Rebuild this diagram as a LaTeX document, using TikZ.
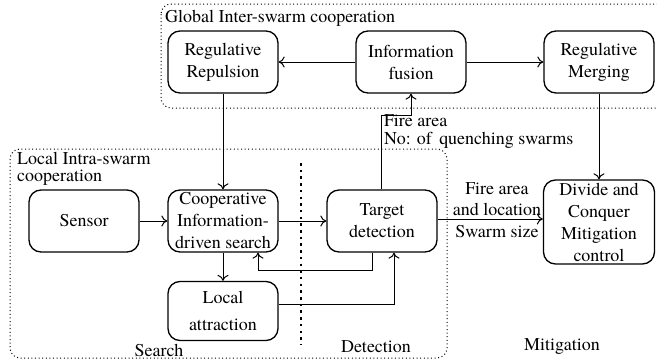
\documentclass[tikz,border=0pt]{standalone}
\usepackage{fontspec}
\setmainfont{texgyretermes}[Extension=.otf,UprightFont=*-regular,BoldFont=*-bold]
\usetikzlibrary{arrows,arrows.meta,positioning,calc}
\tikzset{>={To[length=6pt,width=11pt]}}
\tikzset{
  block/.style={draw,line width=1.3pt,rounded corners=12pt,align=center,minimum width=110pt,minimum height=62pt,inner sep=1pt,font=\rmfamily\fontsize{18}{22}\selectfont},
  lbl/.style={inner sep=0pt,font=\rmfamily\fontsize{18}{18}\selectfont},
  region/.style={line width=1pt,dash pattern=on 1pt off 2.6pt,rounded corners=10pt},
  flow/.style={->,line width=1pt}
}

\begin{document}
\begin{tikzpicture}[x=1pt,y=-1pt]
        \useasboundingbox (0,0) rectangle (657,364);

        % regions
        \draw [region] (161,4) rectangle (668,108);
        \draw [region] (10,149) rectangle (447,358);
        \draw [line width=2.5pt,dash pattern=on 2.5pt off 4.2pt] (301,163) -- (301,345);

        % nodes
        \node [block] (repulsion) at (223,62) {Regulative\\Repulsion};
        \node [block] (fusion) at (411,62) {Information\\fusion};
        \node [block] (merging) at (599,62) {Regulative\\Merging};
        \node [block] (sensor) at (84,221) {Sensor};
        \node [block] (search) at (223,221) {Cooperative\\Information-\\driven search};
        \node [block] (target) at (382,221) {Target\\detection};
        \node [block,minimum height=59pt] (attract) at (223,311) {Local\\[5pt]attraction};
        \node [block,minimum width=111pt,minimum height=84pt] (divide) at (599,222) {Divide and\\Conquer\\Mitigation\\control};

        % labels
        \node [lbl,anchor=west] (global) at (165,18) {Global Inter-swarm cooperation};
        \node [lbl,anchor=west,align=left,font=\rmfamily\fontsize{18}{17}\selectfont] (local) at (17,169) {Local Intra-swarm\\cooperation};
        \node [lbl,anchor=west,align=left] (firetop) at (384,132) {Fire area\\No: of\, quenching swarms};
        \node [lbl,align=center,font=\rmfamily\fontsize{18}{21}\selectfont] (fireloc) at (497,199) {Fire area\\and location};
        \node [lbl] (swarm) at (497,232) {Swarm size};
        \node [lbl] (searchlbl) at (159,350) {Search};
        \node [lbl] (detectlbl) at (376,347) {Detection};
        \node [lbl] (mitiglbl) at (562,347) {Mitigation};

        % arrows
        \draw [flow] (fusion) -- (repulsion);
        \draw [flow] (fusion) -- (merging);
        \draw [flow] (repulsion) -- (search);
        \draw [flow] (merging) -- (divide);
        \draw [flow] (sensor) -- (search);
        \draw [flow] (search) -- (target);
        \draw [flow] (search) -- (attract);
        \draw [flow] (target.east |- 0,219) -- (divide.west |- 0,219);
        \draw [flow] (target.north -| 381,0) |- (411,115) -- (fusion.south);
        \draw [flow] (target.south -| 372,0) |- (258,270) -- (search.south -| 258,0);
        \draw [flow] (attract.east |- 0,304) -| (target.south -| 394,0);

    \end{tikzpicture}
\end{document}
